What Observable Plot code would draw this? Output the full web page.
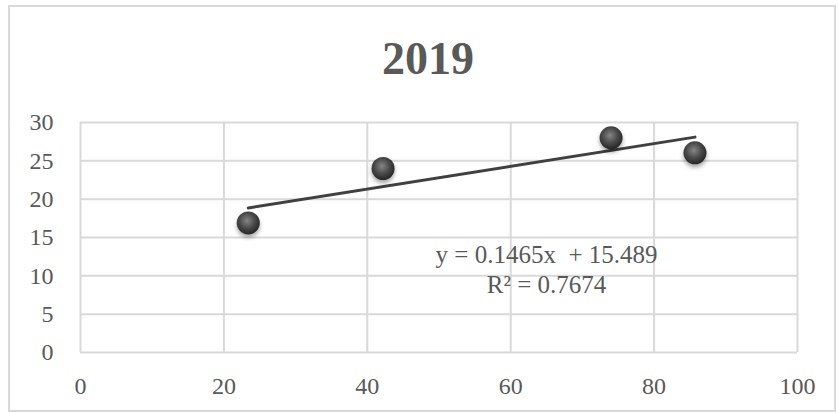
<!DOCTYPE html>
<html>
<head>
<meta charset="utf-8">
<script src="https://cdn.jsdelivr.net/npm/d3@7"></script>
<script src="https://cdn.jsdelivr.net/npm/@observablehq/plot@0.6"></script>
<style>
  body { margin: 0; background: #fff; }
  #wrap { position: relative; width: 838px; height: 413px; overflow: hidden; font-family: "Liberation Serif", "Times New Roman", serif; }
  #frame { position: absolute; left: 8px; top: 5px; width: 828px; height: 407px; border: 2px solid #d9d9d9; box-sizing: border-box; pointer-events: none; }
  #title { position: absolute; left: 0; top: 35.5px; width: 856px; text-align: center; font-size: 46px; line-height: 46px; font-weight: bold; color: #595959; }
  #chart { position: absolute; left: 0; top: 0; }
</style>
</head>
<body>
<div id="wrap">
  <div id="chart"></div>
  <div id="frame"></div>
  <div id="title"></div>
</div>
<script>
const titleText = "2019";
const xValues = [23.4, 42.2, 74.0, 85.7];
const yValues = [16.9, 24.0, 28.0, 26.05];
const xTicks = [0, 20, 40, 60, 80, 100];
const yTicks = [0, 5, 10, 15, 20, 25, 30];
const equationText = "y = 0.1465x  + 15.489";
const rSquaredText = "R² = 0.7674";

document.getElementById("title").textContent = titleText;

const points = xValues.map((x, i) => ({x, y: yValues[i]}));
const gridStyle = {stroke: "#d9d9d9", strokeOpacity: 1, strokeWidth: 2};

const svg = Plot.plot({
  width: 838,
  height: 413,
  marginLeft: 80,
  marginRight: 41,
  marginTop: 122,
  marginBottom: 61,
  style: {fontFamily: "'Liberation Serif', 'Times New Roman', serif", fontSize: "24px", color: "#595959", background: "transparent"},
  x: {domain: [0, 100]},
  y: {domain: [0, 30]},
  marks: [
    Plot.gridY(yTicks, gridStyle),
    Plot.gridX(xTicks, gridStyle),
    Plot.axisY(yTicks, {tickSize: 0, tickPadding: 27, label: null, fontSize: 24}),
    Plot.axisX(xTicks, {tickSize: 0, tickPadding: 24, label: null, fontSize: 24}),
    Plot.linearRegressionY(points, {x: "x", y: "y", ci: 0, stroke: "#404040", strokeWidth: 3}),
    Plot.dot(points, {x: "x", y: "y", r: 11.5, fill: "url(#ball)", stroke: "none", style: "filter: drop-shadow(0px 3px 2px rgba(0,0,0,0.35))"}),
    Plot.text([equationText + "\n" + rSquaredText], {x: () => 65, y: () => 10.95, fontSize: 25, lineHeight: 1.2, fill: "#595959", textAnchor: "middle"})
  ]
});

d3.select(svg).insert("defs", ":first-child").html(`
  <radialGradient id="ball" cx="45%" cy="40%" r="60%">
    <stop offset="0%" stop-color="#858585"/>
    <stop offset="55%" stop-color="#4a4a4a"/>
    <stop offset="100%" stop-color="#262626"/>
  </radialGradient>`);
d3.select(svg).selectAll("circle").attr("style", "filter: drop-shadow(0px 3px 2px rgba(0,0,0,0.35))");

document.getElementById("chart").appendChild(svg);
</script>
</body>
</html>
